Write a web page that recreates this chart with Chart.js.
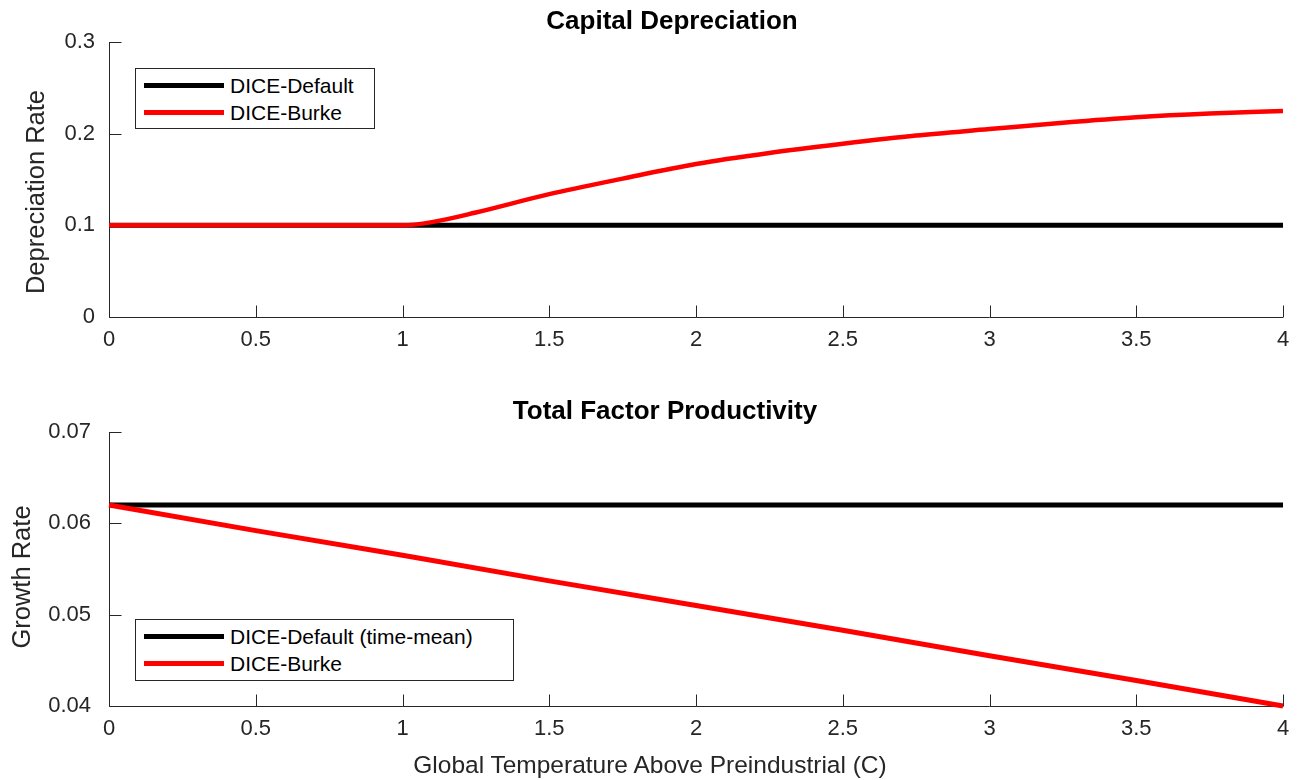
<!DOCTYPE html>
<html>
<head>
<meta charset="utf-8">
<script src="https://cdn.jsdelivr.net/npm/chart.js@4.4.1/dist/chart.umd.min.js"></script>
<style>
  html, body { margin:0; padding:0; background:#fff; }
  body { font-family:'Liberation Sans', Arial, Helvetica, sans-serif; color:#000; }
  #wrap { position:relative; width:1303px; height:780px; overflow:hidden; }
  canvas { position:absolute; left:0; }
  .ptitle { position:absolute; width:600px; text-align:center; font-weight:bold; font-size:26px; line-height:26px; white-space:nowrap; }
  .axt { position:absolute; text-align:center; color:#262626; white-space:nowrap; }
  .axt.rot { transform:rotate(-90deg); }
  .legend { position:absolute; box-sizing:border-box; border:1px solid #262626; background:#fff; }
  .legend .swatch { position:absolute; left:8px; width:80px; height:5px; }
  .legend .lbl { position:absolute; left:94px; font-size:21px; line-height:21px; color:#000; white-space:nowrap; }
</style>
</head>
<body>
<div id="wrap">
  <canvas id="depChart" width="1303" height="390" style="top:0"></canvas>
  <canvas id="tfpChart" width="1303" height="390" style="top:390px"></canvas>
  <div class="ptitle" style="left:372px; top:7px">Capital Depreciation</div>
  <div class="ptitle" style="left:365px; top:397px">Total Factor Productivity</div>
  <div class="axt rot" style="left:-115px; top:179px; width:300px; height:26px; font-size:25.5px; line-height:26px">Depreciation Rate</div>
  <div class="axt rot" style="left:-129px; top:564px; width:300px; height:26px; font-size:25.5px; line-height:26px">Growth Rate</div>
  <div class="axt" style="left:350px; top:753px; width:600px; font-size:24.5px; line-height:24.5px">Global Temperature Above Preindustrial (C)</div>
  <div class="legend" id="depLegend" style="left:135px; top:68px; width:240px; height:61px"></div>
  <div class="legend" id="tfpLegend" style="left:135px; top:619px; width:379px; height:62px"></div>
</div>
<script>
// x values (temperature, C)
const depTemp      = [0, 0.5, 1, 1.1, 1.25, 1.5, 1.75, 2, 2.25, 2.5, 2.75, 3, 3.25, 3.5, 3.75, 4];
const depBurke     = [0.1, 0.1, 0.1, 0.1035, 0.114, 0.134, 0.151, 0.167, 0.179, 0.189, 0.198, 0.205, 0.212, 0.218, 0.222, 0.2246];
const depDefTemp   = [0, 4];
const depDefault   = [0.1, 0.1];

const tfpTemp      = [0, 0.5, 1, 1.5, 2, 2.5, 3, 3.5, 4];
const tfpBurke     = [0.062, 0.0592, 0.0565, 0.0537, 0.051, 0.0483, 0.0455, 0.0428, 0.040];
const tfpDefTemp   = [0, 4];
const tfpDefault   = [0.062, 0.062];

// ticks
const xTicks   = [0, 0.5, 1, 1.5, 2, 2.5, 3, 3.5, 4];
const depTicks = [0, 0.1, 0.2, 0.3];
const tfpTicks = [0.04, 0.05, 0.06, 0.07];

const depNames = ['DICE-Default', 'DICE-Burke'];
const tfpNames = ['DICE-Default (time-mean)', 'DICE-Burke'];
const colors   = ['#000000', '#ff0000'];

const AX = '#262626';
const FONT = "'Liberation Sans', Arial, Helvetica, sans-serif";
const pts = (xs, ys) => xs.map((x,i)=>({ x, y: ys[i] }));

// axis lines + inward ticks (matlab style, box off)
const axesPlugin = {
  id: 'axesPlugin',
  beforeDatasetsDraw(chart){
    const { ctx, chartArea:{left, right, top, bottom}, scales:{x, y} } = chart;
    const L = Math.round(left) + 0.5, B = Math.round(bottom) + 0.5;
    ctx.save();
    ctx.strokeStyle = AX; ctx.lineWidth = 1;
    ctx.beginPath();
    ctx.moveTo(L, top); ctx.lineTo(L, B); ctx.lineTo(right, B);
    x.ticks.forEach(t=>{
      const px = Math.round(x.getPixelForValue(t.value)) + 0.5;
      ctx.moveTo(px, B); ctx.lineTo(px, B - 12);
    });
    y.ticks.forEach(t=>{
      const py = Math.round(y.getPixelForValue(t.value)) + 0.5;
      ctx.moveTo(L, py); ctx.lineTo(L + 12, py);
    });
    ctx.stroke();
    ctx.restore();
  }
};

function makeChart(id, datasets, yMin, yMax, yTicks, yPad, xHeight){
  return new Chart(document.getElementById(id), {
    type: 'line',
    data: { datasets },
    options: {
      responsive: false,
      animation: false,
      layout: { padding: { top: 42, right: 20, bottom: 0, left: 0 } },
      plugins: { legend: { display:false }, tooltip: { enabled:false }, title: { display:false } },
      elements: { point: { radius: 0 } },
      scales: {
        x: {
          type: 'linear', min: 0, max: 4,
          afterBuildTicks: s => { s.ticks = xTicks.map(v=>({ value:v })); },
          afterFit: s => { s.height = xHeight; },
          grid: { display:false, drawTicks:false },
          border: { display:false },
          ticks: { color: AX, padding: 10, font: { family: FONT, size: 22 }, maxRotation: 0,
                   callback: v => String(v) }
        },
        y: {
          type: 'linear', min: yMin, max: yMax,
          afterBuildTicks: s => { s.ticks = yTicks.map(v=>({ value:v })); },
          afterFit: s => { s.width = 109; },
          grid: { display:false, drawTicks:false },
          border: { display:false },
          ticks: { color: AX, padding: yPad, font: { family: FONT, size: 22 },
                   callback: v => String(+v.toFixed(2)) }
        }
      }
    },
    plugins: [axesPlugin]
  });
}

const depChart = makeChart('depChart', [
  { label: depNames[0], data: pts(depDefTemp, depDefault), borderColor: colors[0], borderWidth: 5, order: 1, clip: false },
  { label: depNames[1], data: pts(depTemp, depBurke), borderColor: colors[1], borderWidth: 4.5, order: 0, clip: false,
    cubicInterpolationMode: 'monotone' }
], 0, 0.3, depTicks, 14, 73);

const tfpChart = makeChart('tfpChart', [
  { label: tfpNames[0], data: pts(tfpDefTemp, tfpDefault), borderColor: colors[0], borderWidth: 5, order: 1, clip: false },
  { label: tfpNames[1], data: pts(tfpTemp, tfpBurke), borderColor: colors[1], borderWidth: 5, order: 0, clip: false }
], 0.04, 0.07, tfpTicks, 18, 74);

// legend boxes from dataset labels/colours
function buildLegend(el, chart, rowCenters){
  chart.data.datasets.forEach((d, i)=>{
    const sw = document.createElement('div');
    sw.className = 'swatch';
    sw.style.background = d.borderColor;
    sw.style.top = (rowCenters[i] - 2.5) + 'px';
    const tx = document.createElement('div');
    tx.className = 'lbl';
    tx.textContent = d.label;
    tx.style.top = (rowCenters[i] - 10.5) + 'px';
    el.appendChild(sw); el.appendChild(tx);
  });
}
buildLegend(document.getElementById('depLegend'), depChart, [16, 43]);
buildLegend(document.getElementById('tfpLegend'), tfpChart, [16, 43]);
</script>
</body>
</html>
